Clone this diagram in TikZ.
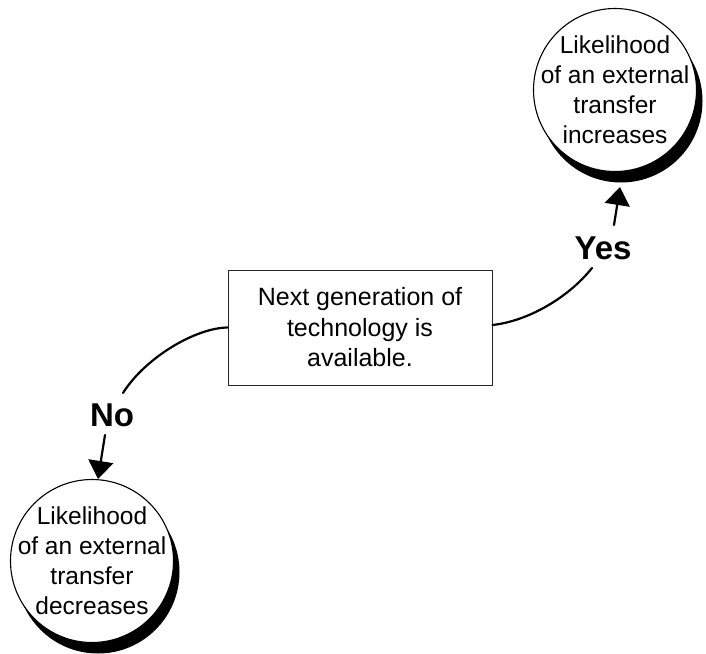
\documentclass[tikz,border=0pt]{standalone}
\usepackage{fontspec}
\setmainfont{Liberation Sans}
\usetikzlibrary{arrows.meta,shadows}
\begin{document}
\begin{tikzpicture}[x=1pt,y=-1pt,
  outcome/.style={circle, draw=black, line width=1.1pt, fill=white,
    minimum size=163pt, inner sep=0pt,
    drop shadow={shadow xshift=6pt, shadow yshift=-11pt, fill=black, opacity=1}},
  outcometext/.style={inner sep=0pt, align=center,
    font=\fontsize{24.5}{30}\selectfont},
  question/.style={rectangle, draw=black!85, line width=1pt, fill=white,
    minimum width=264pt, minimum height=115pt, inner sep=0pt, align=center,
    font=\fontsize{25}{30.5}\selectfont},
  answer/.style={inner sep=0pt, font=\fontsize{33}{36}\selectfont\bfseries},
  link/.style={line width=2.2pt, line cap=round},
  pointer/.style={link, -{Triangle[width=25pt,length=18pt]}}]
\useasboundingbox (0,0) rectangle (706,653);

\node[question] (q) at (360,327.5) {Next generation of\\technology is\\available.};
\node[outcome, label={[outcometext]center:Likelihood\\of an external\\transfer\\increases}] (up) at (615,90) {};
\node[outcome, label={[outcometext]center:Likelihood\\of an external\\transfer\\decreases}] (down) at (92,561) {};
\node[answer] (yes) at (603,248) {Yes};
\node[answer] (no) at (112,415) {No};

% branch towards the "Yes" outcome
\draw[link] ([yshift=2.5pt]q.east) .. controls (528,321) and (568,298) .. ([shift={(-11,20)}]yes.center);
\draw[pointer] ([shift={(11,-23)}]yes.center) -- ([shift={(5,15)}]up.south);

% branch towards the "No" outcome
\draw[link] (q.west) .. controls (195,328) and (145,358) .. ([shift={(11,-22)}]no.center);
\draw[pointer] ([shift={(-7,20)}]no.center) -- ([shift={(6,0)}]down.north);
\end{tikzpicture}
\end{document}
